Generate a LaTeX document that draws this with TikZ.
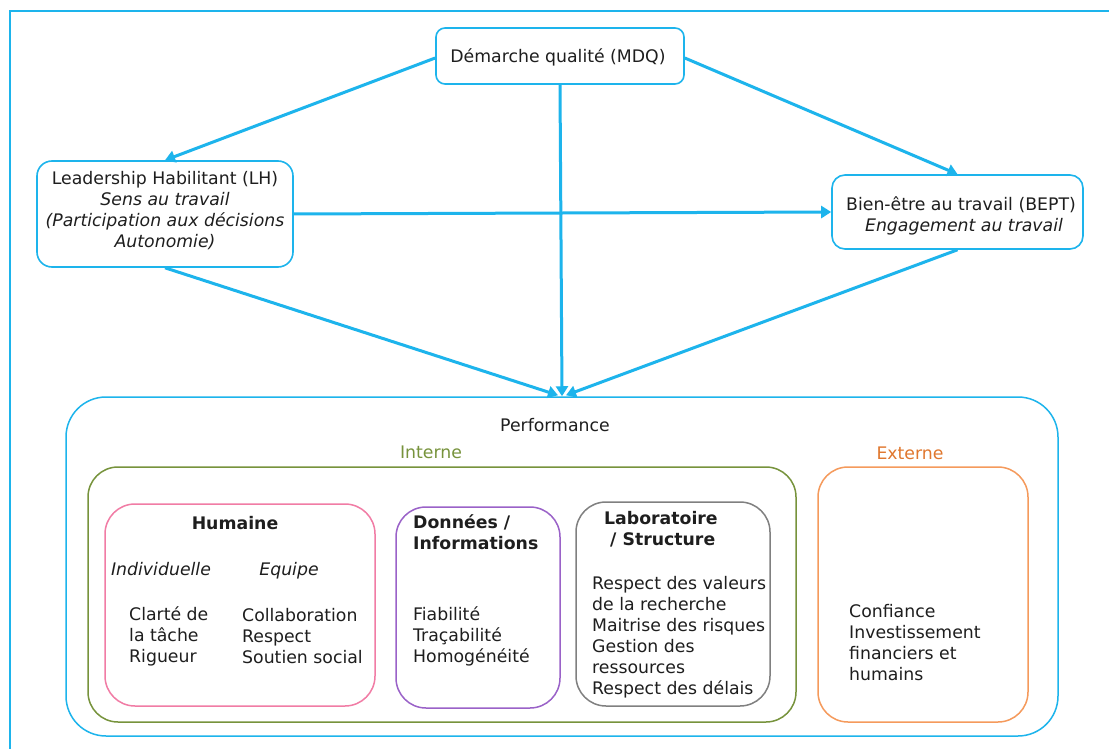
\documentclass[tikz,border=0pt]{standalone}
\usepackage{fontspec}
\setmainfont{DejaVu Sans}
\usetikzlibrary{arrows.meta,calc}
\definecolor{cy}{HTML}{1DB4EC}
\definecolor{gr}{HTML}{77933C}
\definecolor{pk}{HTML}{F17CA5}
\definecolor{pu}{HTML}{9A62C8}
\definecolor{gy}{HTML}{808080}
\definecolor{orb}{HTML}{F59A5C}
\definecolor{ort}{HTML}{E0772E}
\definecolor{tx}{HTML}{1E1E1E}
\newcommand{\fs}{\fontsize{17.3}{21}\selectfont}
\begin{document}
\begin{tikzpicture}[x=1pt,y=-1pt,
  every node/.style={text=tx},
  fnt/.style={font=\fs},
  topbox/.style={draw=cy, line width=1.6pt, rounded corners=9pt, fill=white, inner sep=0pt},
  grpbox/.style={line width=1.5pt, rounded corners=30pt, inner sep=0pt},
  txt/.style={fnt, inner sep=0pt, align=left, anchor=west},
  ctxt/.style={fnt, inner sep=0pt, align=center},
  arr/.style={draw=cy, line width=3pt, -{Triangle[length=10pt,width=12pt]}}
]
\useasboundingbox (0,0) rectangle (1109,749);
\fill[white] (0,0) rectangle (1109,749);
% outer frame (cut off at right and bottom)
\draw[cy, line width=1.8pt] (1112,11) -- (10,11) -- (10,752);

% top boxes
\node[topbox, minimum width=248pt, minimum height=56pt] (mdq) at (560,56) {};
\node[ctxt] (mdqt) at (558,57) {Démarche qualité (MDQ)};

\node[topbox, rounded corners=15pt, minimum width=256pt, minimum height=106pt] (lh) at (165,214) {};
\node[ctxt] (lht) at (165,211) {Leadership Habilitant (LH)\\\itshape Sens au travail\\\itshape (Participation aux décisions\\\itshape Autonomie)};

\node[topbox, rounded corners=13pt, minimum width=251pt, minimum height=74pt] (bept) at (957.5,212) {};
\node[ctxt] (beptt) at (961,216) {Bien-être au travail (BEPT)\\\hspace*{6pt}\itshape Engagement au travail};

% performance
\node[draw=cy, grpbox, rounded corners=40pt, minimum width=992pt, minimum height=339pt] (perf) at (562,566.5) {};
\node[fnt, inner sep=0pt] (perft) at (555,425) {Performance};
\node[fnt, inner sep=0pt, text=gr] (intt) at (431,452) {Interne};
\node[fnt, inner sep=0pt, text=ort] (extt) at (910,453) {Externe};

\node[draw=gr, grpbox, minimum width=708pt, minimum height=255pt] (int) at (442,594.5) {};
\node[draw=orb, grpbox, minimum width=210pt, minimum height=255pt] (ext) at (923,594.5) {};

\node[draw=pk, grpbox, minimum width=270pt, minimum height=202pt] (hum) at (240,605) {};
\node[draw=pu, grpbox, minimum width=164pt, minimum height=201pt] (don) at (478,607.5) {};
\node[draw=gy, grpbox, minimum width=194pt, minimum height=204pt] (lab) at (673,604) {};

% Humaine
\node[inner sep=0pt, font=\fs\bfseries] (humt) at (235,523) {Humaine};
\node[inner sep=0pt, font=\fs\itshape, anchor=base] (indt) at (161,575) {Individuelle};
\node[inner sep=0pt, font=\fs\itshape, anchor=base] (eqt) at (289,575) {Equipe};
\node[txt] (indl) at (129,636) {Clarté de\\la tâche\\Rigueur};
\node[txt] (eql) at (242,636) {Collaboration\\Respect\\Soutien social};

% Données
\node[txt, font=\fs\bfseries] (dont) at (413,532.5) {Données /\\Informations};
\node[txt] (donl) at (413,636) {Fiabilité\\Traçabilité\\Homogénéité};

% Laboratoire
\node[txt, font=\fs\bfseries] (labt) at (604,529.5) {Laboratoire\\\ / Structure};
\node[txt] (labl) at (592,637.5) {Respect des valeurs\\de la recherche\\Maitrise des risques\\Gestion des\\ressources\\Respect des délais};

% Externe
\node[txt] (extl) at (849,642.5) {Confiance\\Investissement\\financiers et\\humains};

% arrows
\draw[arr] ($(mdq.west)+(0,2)$) -- (lh.north);
\draw[arr] ($(mdq.east)+(0,2)$) -- (bept.north);
\draw[arr] (mdq.south) -- (perf.north);
\draw[arr] (lh.east) -- (bept.west);
\draw[arr] (lh.south) -- ($(perf.north)+(-4,-1)$);
\draw[arr] (bept.south) -- ($(perf.north)+(4,-1)$);
\end{tikzpicture}
\end{document}
